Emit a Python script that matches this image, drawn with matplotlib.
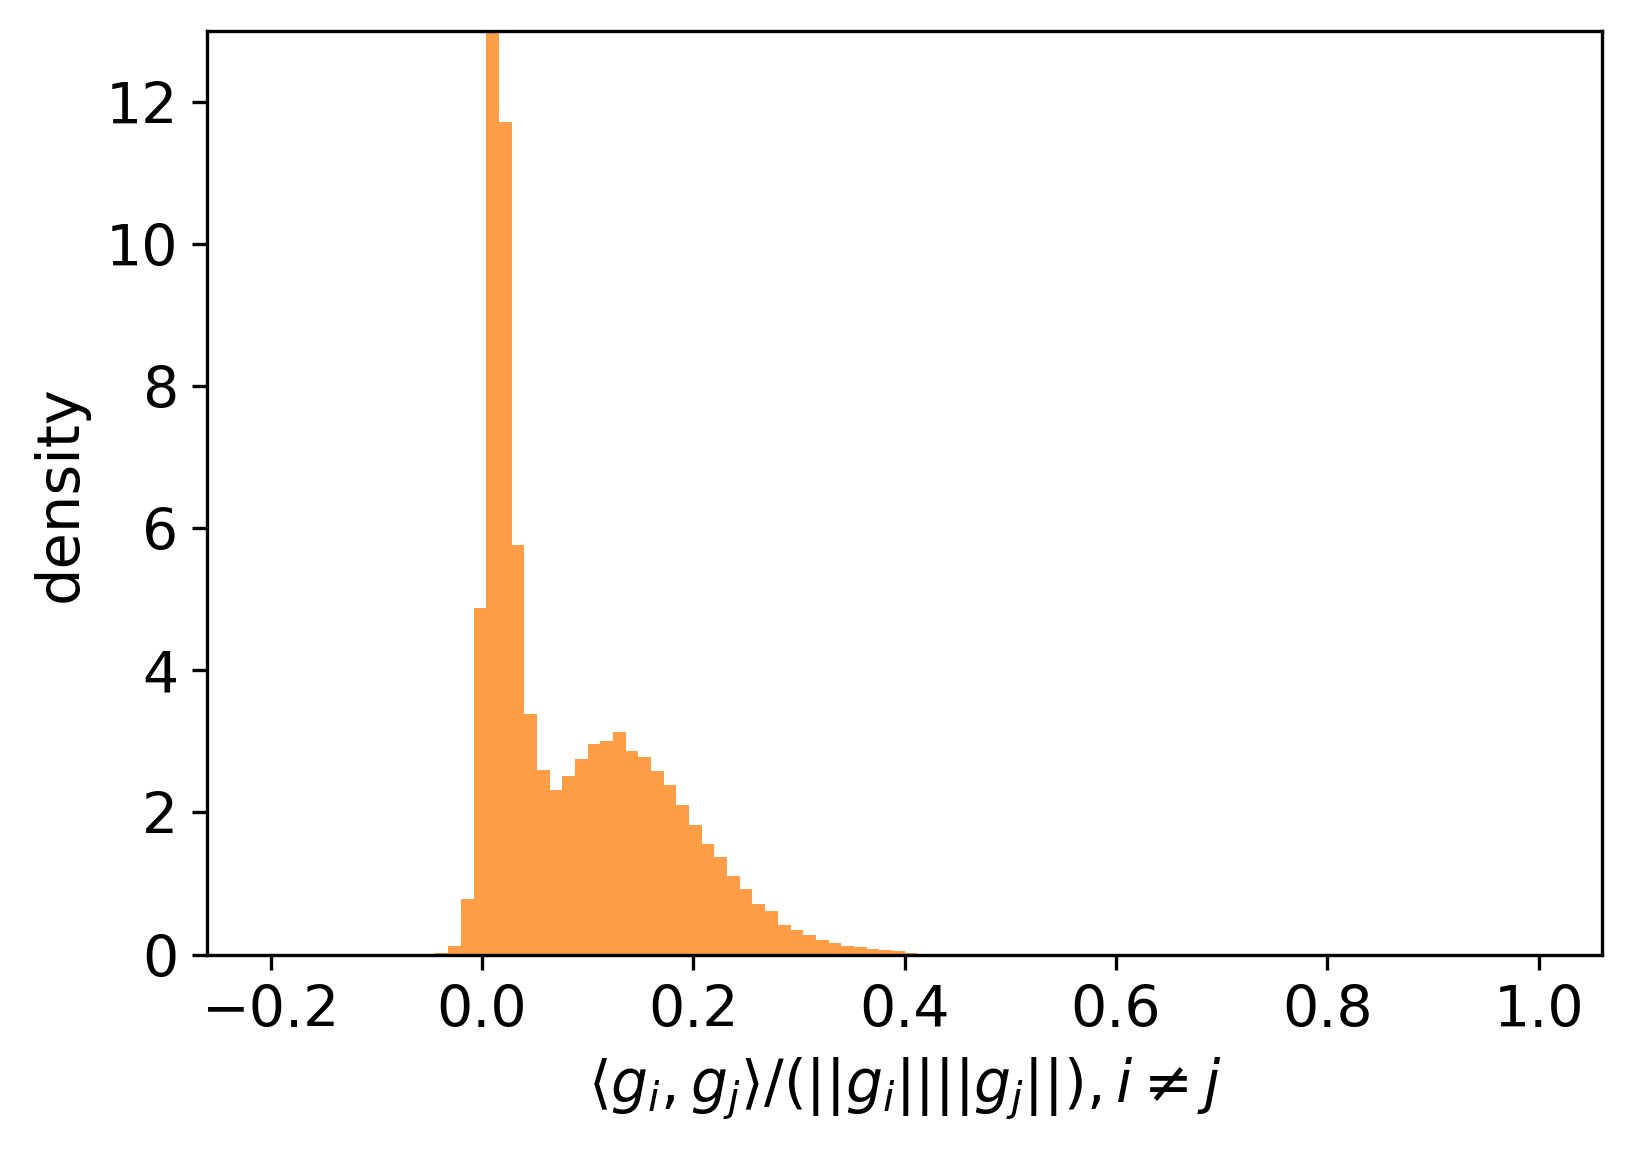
import numpy as np
import matplotlib
matplotlib.use("Agg")
import matplotlib.pyplot as plt

# histogram bin edges: 100 bins over [-0.2, 1.0]
bin_lo = -0.2
bin_hi = 1.0
n_bins = 100

# density values per bin; bins not listed are zero
first_bin = 12
densities = [
    0.005, 0.02, 0.12, 0.78, 4.87, 15.0, 11.71, 5.76, 3.38, 2.60,
    2.31, 2.51, 2.75, 2.97, 3.00, 3.13, 2.87, 2.78, 2.58, 2.38,
    2.10, 1.83, 1.55, 1.37, 1.11, 0.92, 0.71, 0.62, 0.42, 0.34,
    0.27, 0.21, 0.17, 0.12, 0.10, 0.08, 0.06, 0.045, 0.02, 0.005,
]

xticks = [-0.2, 0.0, 0.2, 0.4, 0.6, 0.8, 1.0]
yticks = [0, 2, 4, 6, 8, 10, 12]

edges = np.linspace(bin_lo, bin_hi, n_bins + 1)
heights = np.zeros(n_bins)
heights[first_bin:first_bin + len(densities)] = densities
centers = 0.5 * (edges[:-1] + edges[1:])

fig = plt.figure(figsize=(5.44, 3.845), dpi=300)
ax = fig.add_axes([0.127, 0.172, 0.8546, 0.801])
ax.hist(centers, bins=edges, weights=heights, color="tab:orange", alpha=0.77)

ax.set_xlim(-0.26, 1.06)
ax.set_ylim(0, 13)
ax.set_xticks(xticks)
ax.set_yticks(yticks)
ax.tick_params(labelsize=13.7)
ax.set_xlabel(r"$\langle g_i, g_j\rangle / (||g_i||||g_j||), i \neq j$", fontsize=14)
ax.set_ylabel("density", fontsize=14.2)

fig.savefig("out.png", dpi=300)
